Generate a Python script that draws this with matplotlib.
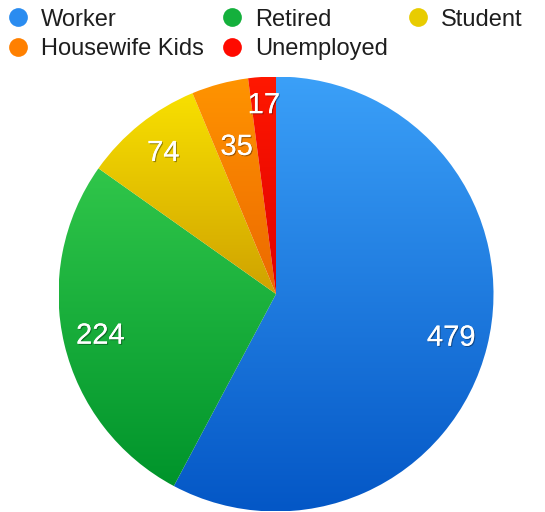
import numpy as np
import matplotlib
matplotlib.use("Agg")
import matplotlib.pyplot as plt
import matplotlib.patheffects as pe
from matplotlib.colors import to_rgb
from matplotlib.lines import Line2D

categories = ["Worker", "Retired", "Student", "Housewife Kids", "Unemployed"]
values = [479, 224, 74, 35, 17]
top_colors = ["#3ba0f8", "#30c64a", "#f8e000", "#ff9400", "#ff1800"]
bottom_colors = ["#0457c6", "#00942b", "#cfa200", "#ec6800", "#e00000"]
legend_colors = ["#2a8cf0", "#14b03c", "#e8cc00", "#ff8000", "#ff0a00"]
label_dist = [0.83, 0.83, 0.83, 0.70, 0.87]

plt.rcParams['font.family'] = ['Liberation Sans', 'DejaVu Sans']

fig = plt.figure(figsize=(5.45, 5.12), dpi=100)
cx, cy, R = 276.0, 294.0, 217.5
W, H = 545.0, 512.0
ax = fig.add_axes([(cx - R) / W, (H - cy - R) / H, 2 * R / W, 2 * R / H])
ax.set_aspect('equal')
ax.axis('off')

total = sum(values)
wedges, texts, autotexts = ax.pie(
    values, startangle=90, counterclock=False, radius=1.0,
    autopct=lambda p: f"{round(p * total / 100)}", pctdistance=0.83,
    textprops=dict(color='white', fontsize=21),
    wedgeprops=dict(linewidth=0))

for w, tc, bc in zip(wedges, top_colors, bottom_colors):
    w.set_facecolor('none')
    ext = w.get_path().get_extents()
    t = np.array(to_rgb(tc)); b = np.array(to_rgb(bc))
    n = 256
    f = np.linspace(0, 1, n)[:, None]
    grad = (t[None, :] * (1 - f) + b[None, :] * f)[:, None, :]
    im = ax.imshow(grad, extent=[ext.x0, ext.x1, ext.y0, ext.y1], origin='upper',
                   aspect='auto', interpolation='bilinear', zorder=1)
    im.set_clip_path(w)

ax.set_xlim(-1, 1)
ax.set_ylim(-1, 1)

for w, at, d in zip(wedges, autotexts, label_dist):
    ang = np.deg2rad((w.theta1 + w.theta2) / 2)
    at.set_position((d * np.cos(ang), d * np.sin(ang)))
    at.set_zorder(5)
    at.set_path_effects([pe.withSimplePatchShadow(offset=(0.8, -0.8), shadow_rgbFace='black', alpha=0.35), pe.Normal()])

# legend (row-major, 3 columns)
col_x = [18, 232, 418]
row_y = [17, 47]
row_base = [26, 55]
for i, (cat, col) in enumerate(zip(categories, legend_colors)):
    r, c = divmod(i, 3)
    xm = col_x[c] / W
    ym = 1 - row_y[r] / H
    fig.add_artist(Line2D([xm], [ym], marker='o', markersize=13.5, color=col,
                          markeredgewidth=0, transform=fig.transFigure))
    fig.text(xm + 23 / W, 1 - row_base[r] / H, cat, fontsize=17, color='#1e1e1e',
             va='baseline', ha='left')

fig.savefig("out.png", dpi=100)
